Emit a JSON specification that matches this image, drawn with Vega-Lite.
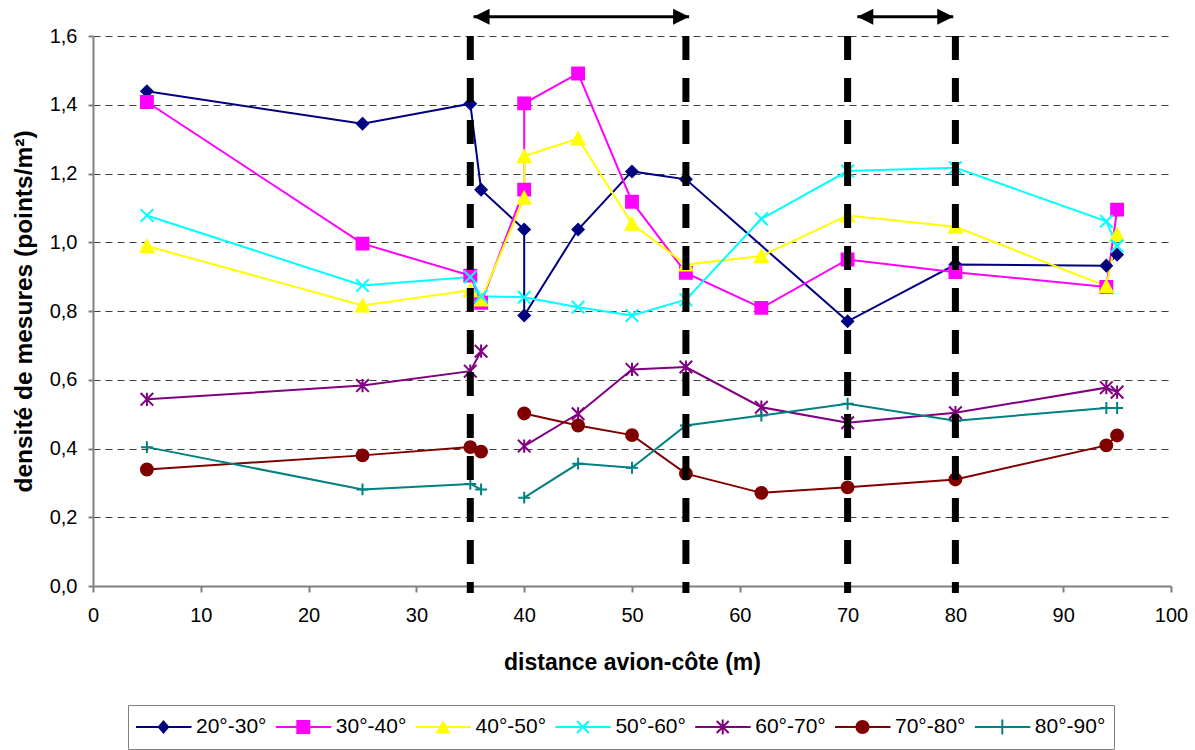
{
  "$schema": "https://vega.github.io/schema/vega-lite/v6.json",
  "width": 1078,
  "height": 550,
  "autosize": {"type": "none"},
  "padding": {"left": 93, "top": 36, "right": 24, "bottom": 164},
  "background": "white",
  "config": {
    "view": {"stroke": null},
    "font": "Liberation Sans",
    "axis": {
      "labelFont": "Liberation Sans",
      "labelFontSize": 20,
      "labelColor": "black",
      "titleFont": "Liberation Sans",
      "titleFontSize": 23,
      "titleFontWeight": "bold",
      "titleColor": "black",
      "domainColor": "#808080",
      "domainWidth": 2,
      "tickColor": "#808080",
      "tickWidth": 2,
      "tickSize": 6,
      "gridColor": "#404040",
      "gridDash": [7, 5],
      "gridWidth": 1,
      "labelFlush": false,
      "labelOverlap": false
    },
    "axisX": {"labelPadding": 13, "titlePadding": 26},
    "axisY": {"labelPadding": 11, "titlePadding": 13, "tickSize": 5, "titleFontSize": 24.5}
  },
  "datasets": {
    "mesures": [
      {"s": "20°-30°", "x": 5, "y": 1.439, "i": 1, "seg": "a"},
      {"s": "20°-30°", "x": 25, "y": 1.345, "i": 2, "seg": "a"},
      {"s": "20°-30°", "x": 35, "y": 1.403, "i": 3, "seg": "a"},
      {"s": "20°-30°", "x": 36, "y": 1.153, "i": 4, "seg": "a"},
      {"s": "20°-30°", "x": 40, "y": 1.037, "i": 5, "seg": "a"},
      {"s": "20°-30°", "x": 40, "y": 0.787, "i": 6, "seg": "a"},
      {"s": "20°-30°", "x": 45, "y": 1.037, "i": 7, "seg": "a"},
      {"s": "20°-30°", "x": 50, "y": 1.206, "i": 8, "seg": "a"},
      {"s": "20°-30°", "x": 55, "y": 1.183, "i": 9, "seg": "a"},
      {"s": "20°-30°", "x": 70, "y": 0.770, "i": 10, "seg": "a"},
      {"s": "20°-30°", "x": 80, "y": 0.935, "i": 11, "seg": "a"},
      {"s": "20°-30°", "x": 94, "y": 0.932, "i": 12, "seg": "a"},
      {"s": "20°-30°", "x": 95, "y": 0.964, "i": 13, "seg": "a"},

      {"s": "30°-40°", "x": 5, "y": 1.408, "i": 1, "seg": "a"},
      {"s": "30°-40°", "x": 25, "y": 0.996, "i": 2, "seg": "a"},
      {"s": "30°-40°", "x": 35, "y": 0.903, "i": 3, "seg": "a"},
      {"s": "30°-40°", "x": 36, "y": 0.824, "i": 4, "seg": "a"},
      {"s": "30°-40°", "x": 40, "y": 1.153, "i": 5, "seg": "a"},
      {"s": "30°-40°", "x": 40, "y": 1.404, "i": 6, "seg": "a"},
      {"s": "30°-40°", "x": 45, "y": 1.491, "i": 7, "seg": "a"},
      {"s": "30°-40°", "x": 50, "y": 1.118, "i": 8, "seg": "a"},
      {"s": "30°-40°", "x": 55, "y": 0.911, "i": 9, "seg": "a"},
      {"s": "30°-40°", "x": 62, "y": 0.809, "i": 10, "seg": "a"},
      {"s": "30°-40°", "x": 70, "y": 0.950, "i": 11, "seg": "a"},
      {"s": "30°-40°", "x": 80, "y": 0.913, "i": 12, "seg": "a"},
      {"s": "30°-40°", "x": 94, "y": 0.870, "i": 13, "seg": "a"},
      {"s": "30°-40°", "x": 95, "y": 1.095, "i": 14, "seg": "a"},

      {"s": "40°-50°", "x": 5, "y": 0.989, "i": 1, "seg": "a"},
      {"s": "40°-50°", "x": 25, "y": 0.816, "i": 2, "seg": "a"},
      {"s": "40°-50°", "x": 35, "y": 0.860, "i": 3, "seg": "a"},
      {"s": "40°-50°", "x": 36, "y": 0.833, "i": 4, "seg": "a"},
      {"s": "40°-50°", "x": 40, "y": 1.129, "i": 5, "seg": "a"},
      {"s": "40°-50°", "x": 40, "y": 1.250, "i": 6, "seg": "a"},
      {"s": "40°-50°", "x": 45, "y": 1.302, "i": 7, "seg": "a"},
      {"s": "40°-50°", "x": 50, "y": 1.054, "i": 8, "seg": "a"},
      {"s": "40°-50°", "x": 55, "y": 0.935, "i": 9, "seg": "a"},
      {"s": "40°-50°", "x": 62, "y": 0.960, "i": 10, "seg": "a"},
      {"s": "40°-50°", "x": 70, "y": 1.078, "i": 11, "seg": "a"},
      {"s": "40°-50°", "x": 80, "y": 1.045, "i": 12, "seg": "a"},
      {"s": "40°-50°", "x": 94, "y": 0.872, "i": 13, "seg": "a"},
      {"s": "40°-50°", "x": 95, "y": 1.023, "i": 14, "seg": "a"},

      {"s": "50°-60°", "x": 5, "y": 1.078, "i": 1, "seg": "a"},
      {"s": "50°-60°", "x": 25, "y": 0.874, "i": 2, "seg": "a"},
      {"s": "50°-60°", "x": 35, "y": 0.899, "i": 3, "seg": "a"},
      {"s": "50°-60°", "x": 36, "y": 0.843, "i": 4, "seg": "a"},
      {"s": "50°-60°", "x": 40, "y": 0.840, "i": 5, "seg": "a"},
      {"s": "50°-60°", "x": 45, "y": 0.811, "i": 6, "seg": "a"},
      {"s": "50°-60°", "x": 50, "y": 0.787, "i": 7, "seg": "a"},
      {"s": "50°-60°", "x": 55, "y": 0.833, "i": 8, "seg": "a"},
      {"s": "50°-60°", "x": 62, "y": 1.068, "i": 9, "seg": "a"},
      {"s": "50°-60°", "x": 70, "y": 1.207, "i": 10, "seg": "a"},
      {"s": "50°-60°", "x": 80, "y": 1.217, "i": 11, "seg": "a"},
      {"s": "50°-60°", "x": 94, "y": 1.061, "i": 12, "seg": "a"},
      {"s": "50°-60°", "x": 95, "y": 0.989, "i": 13, "seg": "a"},

      {"s": "60°-70°", "x": 5, "y": 0.543, "i": 1, "seg": "a"},
      {"s": "60°-70°", "x": 25, "y": 0.583, "i": 2, "seg": "a"},
      {"s": "60°-70°", "x": 35, "y": 0.625, "i": 3, "seg": "a"},
      {"s": "60°-70°", "x": 36, "y": 0.683, "i": 4, "seg": "a"},
      {"s": "60°-70°", "x": 40, "y": 0.407, "i": 5, "seg": "b"},
      {"s": "60°-70°", "x": 45, "y": 0.501, "i": 6, "seg": "b"},
      {"s": "60°-70°", "x": 50, "y": 0.630, "i": 7, "seg": "b"},
      {"s": "60°-70°", "x": 55, "y": 0.637, "i": 8, "seg": "b"},
      {"s": "60°-70°", "x": 62, "y": 0.520, "i": 9, "seg": "b"},
      {"s": "60°-70°", "x": 70, "y": 0.475, "i": 10, "seg": "b"},
      {"s": "60°-70°", "x": 80, "y": 0.504, "i": 11, "seg": "b"},
      {"s": "60°-70°", "x": 94, "y": 0.577, "i": 12, "seg": "b"},
      {"s": "60°-70°", "x": 95, "y": 0.564, "i": 13, "seg": "b"},

      {"s": "70°-80°", "x": 5, "y": 0.339, "i": 1, "seg": "a"},
      {"s": "70°-80°", "x": 25, "y": 0.380, "i": 2, "seg": "a"},
      {"s": "70°-80°", "x": 35, "y": 0.404, "i": 3, "seg": "a"},
      {"s": "70°-80°", "x": 36, "y": 0.391, "i": 4, "seg": "a"},
      {"s": "70°-80°", "x": 40, "y": 0.502, "i": 5, "seg": "b"},
      {"s": "70°-80°", "x": 45, "y": 0.467, "i": 6, "seg": "b"},
      {"s": "70°-80°", "x": 50, "y": 0.439, "i": 7, "seg": "b"},
      {"s": "70°-80°", "x": 55, "y": 0.327, "i": 8, "seg": "b"},
      {"s": "70°-80°", "x": 62, "y": 0.271, "i": 9, "seg": "b"},
      {"s": "70°-80°", "x": 70, "y": 0.287, "i": 10, "seg": "b"},
      {"s": "70°-80°", "x": 80, "y": 0.310, "i": 11, "seg": "b"},
      {"s": "70°-80°", "x": 94, "y": 0.409, "i": 12, "seg": "b"},
      {"s": "70°-80°", "x": 95, "y": 0.438, "i": 13, "seg": "b"},

      {"s": "80°-90°", "x": 5, "y": 0.404, "i": 1, "seg": "a"},
      {"s": "80°-90°", "x": 25, "y": 0.281, "i": 2, "seg": "a"},
      {"s": "80°-90°", "x": 35, "y": 0.297, "i": 3, "seg": "a"},
      {"s": "80°-90°", "x": 36, "y": 0.281, "i": 4, "seg": "a"},
      {"s": "80°-90°", "x": 40, "y": 0.257, "i": 5, "seg": "b"},
      {"s": "80°-90°", "x": 45, "y": 0.356, "i": 6, "seg": "b"},
      {"s": "80°-90°", "x": 50, "y": 0.344, "i": 7, "seg": "b"},
      {"s": "80°-90°", "x": 55, "y": 0.467, "i": 8, "seg": "b"},
      {"s": "80°-90°", "x": 62, "y": 0.496, "i": 9, "seg": "b"},
      {"s": "80°-90°", "x": 70, "y": 0.530, "i": 10, "seg": "b"},
      {"s": "80°-90°", "x": 80, "y": 0.481, "i": 11, "seg": "b"},
      {"s": "80°-90°", "x": 94, "y": 0.518, "i": 12, "seg": "b"},
      {"s": "80°-90°", "x": 95, "y": 0.518, "i": 13, "seg": "b"}
    ],
    "zones": [
      {"debut": 35, "fin": 55},
      {"debut": 70, "fin": 80}
    ],
    "fleches": [
      {"de": 35.3, "a": 55.3},
      {"de": 70.9, "a": 79.8}
    ]
  },
  "data": {"name": "mesures"},
  "resolve": {"scale": {"shape": "independent", "color": "independent"}},
  "layer": [
    {
      "mark": {"type": "line", "strokeWidth": 2},
      "encoding": {
        "x": {
          "field": "x", "type": "quantitative",
          "scale": {"domain": [0, 100], "nice": false},
          "axis": {"title": "distance avion-côte (m)", "values": [0, 10, 20, 30, 40, 50, 60, 70, 80, 90, 100], "grid": false}
        },
        "y": {
          "field": "y", "type": "quantitative",
          "scale": {"domain": [0, 1.6], "nice": false},
          "axis": {
            "title": "densité de mesures (points/m²)",
            "values": [0, 0.2, 0.4, 0.6, 0.8, 1.0, 1.2, 1.4, 1.6],
            "labelExpr": "replace(format(datum.value, '.1f'), '.', ',')",
            "grid": true
          }
        },
        "color": {
          "field": "s", "type": "nominal",
          "scale": {
            "domain": ["20°-30°", "30°-40°", "40°-50°", "50°-60°", "60°-70°", "70°-80°", "80°-90°"],
            "range": ["#000080", "#FF00FF", "#FFFF00", "#00FFFF", "#800080", "#800000", "#008080"]
          },
          "legend": null
        },
        "detail": {"field": "seg", "type": "nominal"},
        "order": {"field": "i", "type": "quantitative"}
      }
    },
    {
      "transform": [{"filter": "datum.s === '20°-30°'"}],
      "mark": {"type": "point", "filled": true, "opacity": 1, "size": 196, "strokeWidth": 2, "color": "#000080", "stroke": "#000080", "shape": "M0,-0.8L0.8,0L0,0.8L-0.8,0Z"},
      "encoding": {"x": {"field": "x", "type": "quantitative"}, "y": {"field": "y", "type": "quantitative"}}
    },
    {
      "transform": [{"filter": "datum.s === '30°-40°'"}],
      "mark": {"type": "point", "filled": true, "opacity": 1, "size": 196, "strokeWidth": 2, "color": "#FF00FF", "stroke": "#FF00FF", "shape": "M-0.85,-0.85H0.85V0.85H-0.85Z"},
      "encoding": {"x": {"field": "x", "type": "quantitative"}, "y": {"field": "y", "type": "quantitative"}}
    },
    {
      "transform": [{"filter": "datum.s === '40°-50°'"}],
      "mark": {"type": "point", "filled": true, "opacity": 1, "size": 196, "strokeWidth": 2, "color": "#FFFF00", "stroke": "#FFFF00", "shape": "M0,-0.85L0.9,0.85L-0.9,0.85Z"},
      "encoding": {"x": {"field": "x", "type": "quantitative"}, "y": {"field": "y", "type": "quantitative"}}
    },
    {
      "transform": [{"filter": "datum.s === '50°-60°'"}],
      "mark": {"type": "point", "filled": false, "opacity": 1, "size": 196, "strokeWidth": 2, "color": "#00FFFF", "shape": "M-0.9,-0.9L0.9,0.9M-0.9,0.9L0.9,-0.9"},
      "encoding": {"x": {"field": "x", "type": "quantitative"}, "y": {"field": "y", "type": "quantitative"}}
    },
    {
      "transform": [{"filter": "datum.s === '60°-70°'"}],
      "mark": {"type": "point", "filled": false, "opacity": 1, "size": 196, "strokeWidth": 2, "color": "#800080", "shape": "M-0.9,-0.9L0.9,0.9M-0.9,0.9L0.9,-0.9M0,-0.95V0.95"},
      "encoding": {"x": {"field": "x", "type": "quantitative"}, "y": {"field": "y", "type": "quantitative"}}
    },
    {
      "transform": [{"filter": "datum.s === '70°-80°'"}],
      "mark": {"type": "point", "filled": true, "opacity": 1, "size": 196, "strokeWidth": 2, "color": "#800000", "stroke": "#800000", "shape": "M-0.85,0A0.85,0.85 0 1,1 0.85,0A0.85,0.85 0 1,1 -0.85,0Z"},
      "encoding": {"x": {"field": "x", "type": "quantitative"}, "y": {"field": "y", "type": "quantitative"}}
    },
    {
      "transform": [{"filter": "datum.s === '80°-90°'"}],
      "mark": {"type": "point", "filled": false, "opacity": 1, "size": 196, "strokeWidth": 2, "color": "#008080", "shape": "M-0.85,0H0.85M0,-0.85V0.85"},
      "encoding": {"x": {"field": "x", "type": "quantitative"}, "y": {"field": "y", "type": "quantitative"}}
    },
    {
      "mark": {"type": "point", "filled": true, "opacity": 0, "size": 4},
      "encoding": {
        "x": {"field": "x", "type": "quantitative"},
        "y": {"field": "y", "type": "quantitative"},
        "color": {
          "field": "s", "type": "nominal",
          "scale": {
            "domain": ["20°-30°", "30°-40°", "40°-50°", "50°-60°", "60°-70°", "70°-80°", "80°-90°"],
            "range": ["#000080", "#FF00FF", "#FFFF00", "#00FFFF", "#800080", "#800000", "#008080"]
          },
          "legend": {
            "title": null, "orient": "none", "legendX": 35, "legendY": 669,
            "direction": "horizontal", "columns": 7,
            "symbolSize": 4, "symbolOpacity": 1, "clipHeight": 28,
            "symbolOffset": 17, "labelOffset": 22, "columnPadding": 8.8, "padding": 8,
            "strokeColor": "#808080",
            "labelFont": "Liberation Sans", "labelFontSize": 21, "labelColor": "black", "labelLimit": 0
          }
        },
        "shape": {
          "field": "s", "type": "nominal",
          "scale": {
            "domain": ["20°-30°", "30°-40°", "40°-50°", "50°-60°", "60°-70°", "70°-80°", "80°-90°"],
            "range": [
              "M-28,-1H28V1H-28ZM0,-7L6,0L0,7L-6,0Z",
              "M-28,-1H28V1H-28ZM-7,-7H7V7H-7Z",
              "M-28,-1H28V1H-28ZM0,-7L7.5,6.5L-7.5,6.5Z",
              "M-28,-1H28V1H-28ZM-5.3,-6.7L6.7,5.3L5.3,6.7L-6.7,-5.3ZM-5.3,6.7L-6.7,5.3L5.3,-6.7L6.7,-5.3Z",
              "M-28,-1H28V1H-28ZM-5.3,-6.7L6.7,5.3L5.3,6.7L-6.7,-5.3ZM-5.3,6.7L-6.7,5.3L5.3,-6.7L6.7,-5.3ZM-1,-7.5H1V7.5H-1Z",
              "M-28,-1H28V1H-28ZM-7,0A7,7 0 1,1 7,0A7,7 0 1,1 -7,0Z",
              "M-28,-1H28V1H-28ZM-7,-1H7V1H-7ZM-1,-7.5H1V7.5H-1Z"
            ]
          },
          "legend": {
            "title": null, "orient": "none", "legendX": 35, "legendY": 669,
            "direction": "horizontal", "columns": 7,
            "symbolSize": 4, "symbolOpacity": 1, "clipHeight": 28,
            "symbolOffset": 17, "labelOffset": 22, "columnPadding": 8.8, "padding": 8,
            "strokeColor": "#808080",
            "labelFont": "Liberation Sans", "labelFontSize": 21, "labelColor": "black", "labelLimit": 0
          }
        }
      }
    },
    {
      "data": {"name": "zones"},
      "mark": {"type": "rule", "color": "black", "strokeWidth": 7, "strokeDash": [24, 18]},
      "encoding": {
        "x": {"field": "debut", "type": "quantitative"},
        "y": {"datum": 1.6},
        "y2": {"datum": -0.02}
      }
    },
    {
      "data": {"name": "zones"},
      "mark": {"type": "rule", "color": "black", "strokeWidth": 7, "strokeDash": [24, 18]},
      "encoding": {
        "x": {"field": "fin", "type": "quantitative"},
        "y": {"datum": 1.6},
        "y2": {"datum": -0.02}
      }
    },
    {
      "data": {"name": "fleches"},
      "mark": {"type": "rule", "color": "black", "strokeWidth": 3},
      "encoding": {
        "x": {"field": "de", "type": "quantitative"},
        "x2": {"field": "a"},
        "y": {"datum": 1.656}
      }
    },
    {
      "data": {"name": "fleches"},
      "mark": {"type": "point", "filled": true, "opacity": 1, "color": "black", "size": 256, "shape": "M0,0L2,-1L2,1Z"},
      "encoding": {
        "x": {"field": "de", "type": "quantitative"},
        "y": {"datum": 1.656}
      }
    },
    {
      "data": {"name": "fleches"},
      "mark": {"type": "point", "filled": true, "opacity": 1, "color": "black", "size": 256, "shape": "M0,0L-2,-1L-2,1Z"},
      "encoding": {
        "x": {"field": "a", "type": "quantitative"},
        "y": {"datum": 1.656}
      }
    }
  ]
}
